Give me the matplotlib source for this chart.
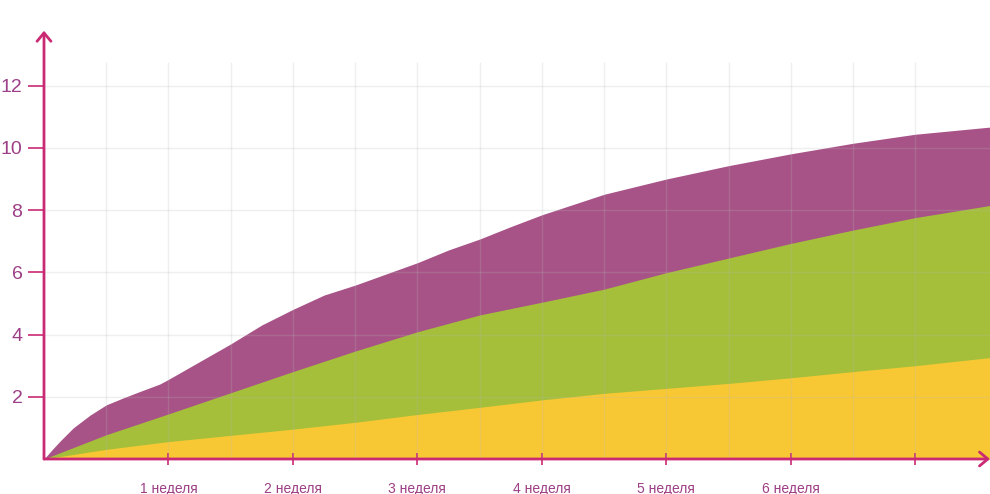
import matplotlib
matplotlib.use('Agg')
import matplotlib.pyplot as plt

plt.rcParams['font.family'] = ['Liberation Sans', 'DejaVu Sans']

# положение по оси x в неделях
weeks_fine = [0, 0.065, 0.13, 0.235, 0.37, 0.5, 0.64, 0.77, 0.93, 1, 1.25, 1.5, 1.75, 2,
              2.25, 2.5, 2.75, 3, 3.25, 3.5, 3.75, 4, 4.5, 5, 5.5, 6, 6.5, 7, 7.6]
weeks = [0, 0.5, 1, 1.5, 2, 2.5, 3, 3.5, 4, 4.5, 5, 5.5, 6, 6.5, 7, 7.6]

# верхние границы слоёв (накопленные значения)
top_purple = [0, 0.3, 0.58, 1.0, 1.41, 1.74, 1.97, 2.17, 2.41, 2.56, 3.13, 3.70, 4.31,
              4.81, 5.27, 5.59, 5.95, 6.31, 6.72, 7.07, 7.47, 7.85, 8.51, 9.0,
              9.43, 9.81, 10.15, 10.44, 10.67]
top_green = [0, 0.78, 1.45, 2.13, 2.81, 3.47, 4.09, 4.63, 5.04, 5.46, 5.99,
             6.46, 6.93, 7.36, 7.76, 8.15]
top_yellow = [0, 0.31, 0.56, 0.76, 0.96, 1.18, 1.43, 1.66, 1.90, 2.11, 2.27,
              2.43, 2.61, 2.81, 3.0, 3.26]

week_ticks = [1, 2, 3, 4, 5, 6, 7]
week_labels = ['1 неделя', '2 неделя', '3 неделя', '4 неделя', '5 неделя', '6 неделя', '']
grid_x = [0.5, 1, 1.5, 2, 2.5, 3, 3.5, 4, 4.5, 5, 5.5, 6, 6.5, 7]
y_ticks = [2, 4, 6, 8, 10, 12]

axis_col = '#c92a73'
label_col = '#9c3f86'

fig = plt.figure(figsize=(9.9, 4.94), dpi=100)
ax = fig.add_axes([44 / 990, 35 / 494, 946 / 990, 424 / 494])

ax.fill_between(weeks_fine, 0, top_purple, color='#a85387', lw=0, zorder=1)
ax.fill_between(weeks, 0, top_green, color='#a5bf3a', lw=0, zorder=1.1)
ax.fill_between(weeks, 0, top_yellow, color='#f8c834', lw=0, zorder=1.2)

ax.set_xlim(0, 7.6)
ax.set_ylim(0, 13.63)

# сетка поверх областей
ax.vlines(grid_x, 0, 12.75, color='#b8b8b8', alpha=0.22, lw=1, zorder=2)
ax.hlines(y_ticks, 0, 7.6, color='#b8b8b8', alpha=0.22, lw=1, zorder=2)

ax.set_xticks(week_ticks)
ax.set_xticklabels(week_labels)
ax.set_yticks(y_ticks)

ax.tick_params(axis='x', direction='inout', length=9, width=1.2,
               color=axis_col, labelcolor=label_col, labelsize=10, pad=12)
ax.tick_params(axis='y', direction='out', length=11.5, width=1.2,
               color=axis_col, labelcolor=label_col, labelsize=14, pad=4)

for s in ax.spines.values():
    s.set_visible(False)

# оси со стрелками
arrow = dict(arrowstyle='->, head_length=0.6, head_width=0.5',
             color=axis_col, lw=2, shrinkA=0, shrinkB=0)
ax.annotate('', xy=(0, 1.01), xytext=(0, 0), xycoords='axes fraction',
            arrowprops=arrow)
ax.annotate('', xy=(1, 0), xytext=(0, 0), xycoords='axes fraction',
            arrowprops=arrow)

fig.savefig('out.png', dpi=100)
